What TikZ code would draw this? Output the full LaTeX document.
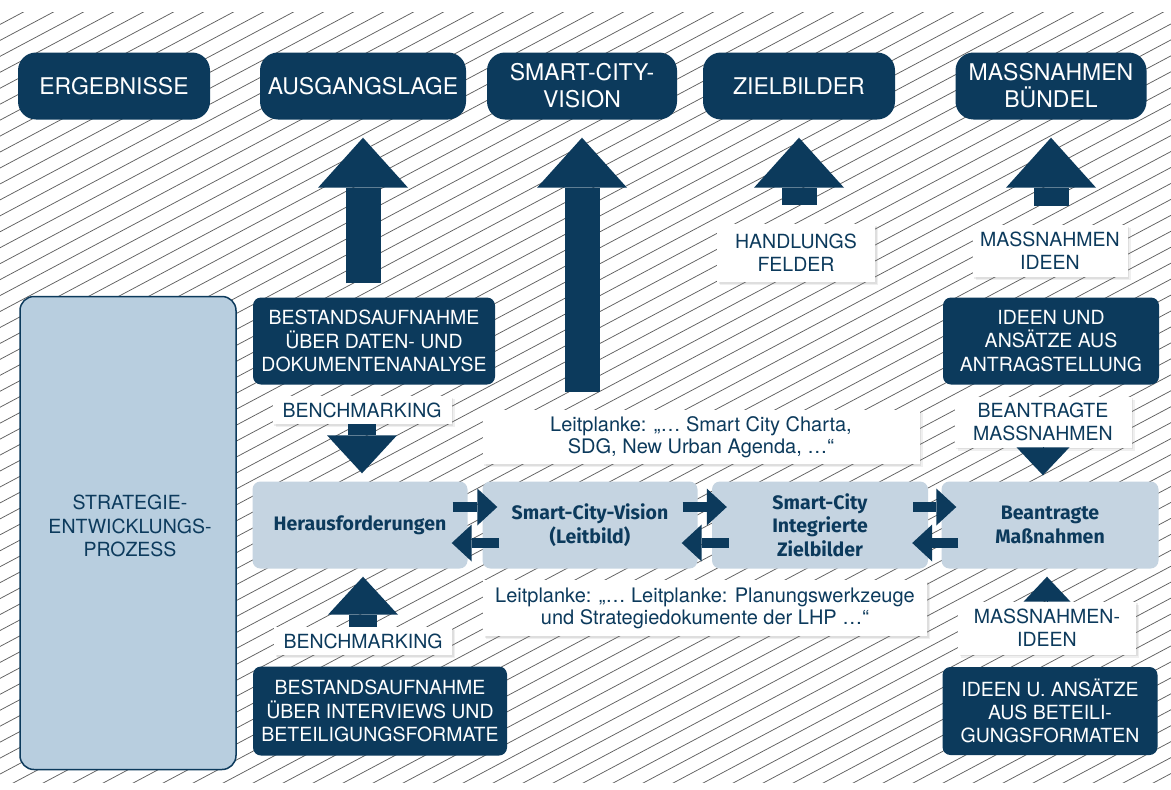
\documentclass[tikz,border=0pt]{standalone}
\usepackage{fontspec}
\setmainfont{TeX Gyre Heros}
\newfontfamily\procfont{Fira Sans}
\usetikzlibrary{arrows.meta,shadows,calc}
\definecolor{navy}{RGB}{12,58,92}
\definecolor{paleblue}{RGB}{197,212,225}
\definecolor{stratblue}{RGB}{184,206,223}
\begin{document}
\begin{tikzpicture}[x=1pt,y=-1pt,
    hatch/.style={black!62,line width=0.75pt},
    titlebox/.style={fill=navy,rounded corners=18pt,text=white,align=center,inner sep=0pt,
      font=\fontsize{23}{27}\selectfont,minimum height=67pt},
    darkbox/.style={fill=navy,rounded corners=8pt,text=white,align=center,inner sep=0pt,
      font=\fontsize{19.5}{23.3}\selectfont},
    whitebox/.style={fill=white,align=center,inner sep=0pt,text=navy,
      font=\fontsize{19.5}{23.3}\selectfont,
      drop shadow={shadow xshift=3pt,shadow yshift=-3pt,opacity=0.12},
      drop shadow={shadow xshift=1.5pt,shadow yshift=-1.5pt,opacity=0.15}},
    leitbox/.style={whitebox,font=\fontsize{20}{22}\selectfont},
    procbox/.style={fill=paleblue,rounded corners=8pt,align=center,inner sep=0pt,text=navy,
      font=\procfont\bfseries\fontsize{19.5}{23.3}\selectfont,minimum height=87pt},
    bigarrow/.style={navy,line width=35pt,-{Triangle[width=90pt,length=50pt,line width=0pt]}},
    midarrow/.style={navy,line width=28pt,-{Triangle[width=70pt,length=38pt,line width=0pt]}},
    smallarrow/.style={navy,line width=10pt,-{Triangle[width=37pt,length=20pt,line width=0pt]}}]
  \useasboundingbox (0,0) rectangle (1171,790);
  \fill[white] (0,0) rectangle (1171,790);
  \begin{scope}
    \clip (0,12) rectangle (1171,782);
    \foreach \i in {-50,...,40}
      \draw[hatch] (\i*30,790) -- ++(1486,-790);
  \end{scope}

  \node[titlebox,minimum width=192pt] (ergeb) at (114,86) {ERGEBNISSE};
  \node[titlebox,minimum width=206pt] (ausgang) at (363,86) {AUSGANGSLAGE};
  \node[titlebox,minimum width=190pt] (vision) at (582,86) {SMART-CITY-\\VISION};
  \node[titlebox,minimum width=192pt] (ziel) at (799,86) {ZIELBILDER};
  \node[titlebox,minimum width=191pt] (buendel) at (1051,86) {MASSNAHMEN\\BÜNDEL};

  \node[draw=navy,line width=1.5pt,fill=stratblue,rounded corners=14pt,
    minimum width=216pt,minimum height=473pt] (strat) at (128,533) {};
  \node[text=navy,align=center,font=\fontsize{19.5}{23.3}\selectfont] (strattext) at (130,526)
    {STRATEGIE-\\ENTWICKLUNGS-\\PROZESS};

  \node[darkbox,minimum width=242pt,minimum height=87pt] (bestand1) at (374,341)
    {BESTANDSAUFNAHME\\ÜBER DATEN- UND\\DOKUMENTENANALYSE};
  \node[darkbox,minimum width=254pt,minimum height=89pt] (bestand2) at (380,711)
    {BESTANDSAUFNAHME\\ÜBER INTERVIEWS UND\\BETEILIGUNGSFORMATE};
  \node[darkbox,minimum width=216pt,minimum height=87pt] (ideen1) at (1051,341)
    {IDEEN UND\\ANSÄTZE AUS\\ANTRAGSTELLUNG};
  \node[darkbox,minimum width=215pt,minimum height=88pt] (ideen2) at (1050,711)
    {IDEEN U. ANSÄTZE\\AUS BETEILI-\\GUNGSFORMATEN};

  \node[whitebox,minimum width=179pt,minimum height=28pt] (bench1) at (362,410) {BENCHMARKING};
  \node[whitebox,minimum width=178pt,minimum height=28pt] (bench2) at (363,641) {BENCHMARKING};
  \node[whitebox,minimum width=158pt,minimum height=58pt] (handl) at (796,253) {HANDLUNGS\\FELDER};
  \node[whitebox,minimum width=155pt,minimum height=52pt] (massid1) at (1050,251) {MASSNAHMEN\\IDEEN};
  \node[whitebox,minimum width=177pt,minimum height=51pt] (beant1) at (1043,422) {BEANTRAGTE\\MASSNAHMEN};
  \node[whitebox,minimum width=178pt,minimum height=53pt] (massid2) at (1047,628) {MASSNAHMEN-\\IDEEN};
  \node[leitbox,minimum width=437pt,minimum height=54pt] (leit1) at (701,437)
    {Leitplanke: „… Smart City Charta,\\SDG, New Urban Agenda, …“};
  \node[leitbox,minimum width=444pt,minimum height=56pt] (leit2) at (705,608)
    {Leitplanke: „… Leitplanke: Planungswerkzeuge\\und Strategiedokumente der LHP …“};

  \node[procbox,minimum width=215pt] (heraus) at (360,525) {Herausforderungen};
  \node[procbox,minimum width=215pt] (visionp) at (590,525) {Smart-City-Vision\\(Leitbild)};
  \node[procbox,minimum width=216pt] (zielp) at (820,525) {Smart-City\\Integrierte\\Zielbilder};
  \node[procbox,minimum width=217pt] (beantp) at (1050,525) {Beantragte\\Maßnahmen};

  \draw[bigarrow,shorten <=14pt,shorten >=18pt] (bestand1.north -| ausgang.south) -- (ausgang.south);
  \draw[bigarrow,shorten <=18pt,shorten >=18pt] (leit1.north -| vision.south) -- (vision.south);
  \draw[bigarrow,shorten <=19pt,shorten >=18pt] (handl.north -| ziel.south) -- (ziel.south);
  \draw[bigarrow,shorten <=19pt,shorten >=18pt] (massid1.north -| buendel.south) -- (buendel.south);
  \draw[midarrow,shorten >=8pt] (bench1.south) -- (heraus.north -| bench1.south);
  \draw[midarrow,shorten >=8pt] (bench2.north) -- (heraus.south -| bench2.north);
  \draw[navy,line width=0pt,-{Triangle[width=53pt,length=28pt]},shorten >=6pt]
    (beant1.south) -- (beantp.north -| beant1.south);
  \draw[navy,line width=0pt,-{Triangle[width=47pt,length=25pt]},shorten >=8pt]
    (massid2.north) -- (beantp.south -| massid2.north);

  \begin{scope}[smallarrow]
    \draw ($(heraus.east)+(-15,-18)$) -- ($(visionp.west)+(15,-18)$);
    \draw ($(visionp.west)+(17,18)$) -- ($(heraus.east)+(-16,18)$);
    \draw ($(visionp.east)+(-15,-18)$) -- ($(zielp.west)+(15,-18)$);
    \draw ($(zielp.west)+(17,18)$) -- ($(visionp.east)+(-16,18)$);
    \draw ($(zielp.east)+(-15,-18)$) -- ($(beantp.west)+(15,-18)$);
    \draw ($(beantp.west)+(17,18)$) -- ($(zielp.east)+(-16,18)$);
  \end{scope}
\end{tikzpicture}
\end{document}
